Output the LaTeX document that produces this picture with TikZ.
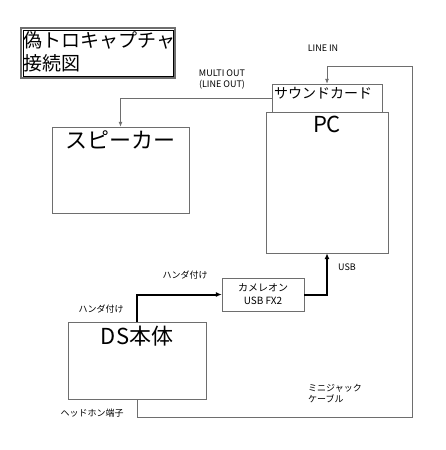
\documentclass[tikz,border=0pt]{standalone}
\usepackage{fontspec}
\setmainfont{Noto Sans CJK JP}
\usetikzlibrary{arrows.meta,positioning}
\definecolor{linegray}{RGB}{110,110,110}
\tikzset{
  box/.style={draw=linegray, fill=white, inner sep=0pt},
  small/.style={font=\fontsize{9}{11}\selectfont, inner sep=0pt, align=center},
  big/.style={font=\fontsize{22}{24}\selectfont, inner sep=0pt},
  thin/.style={draw=linegray, line width=0.8pt, -{Latex[length=5pt,width=4pt]}},
  thick/.style={draw=black, line width=2pt, -{Latex[length=6pt,width=5pt]}}
}
\begin{document}
\begin{tikzpicture}[x=1pt,y=-1pt]
            \useasboundingbox (0,0) rectangle (445,450);

            % title
            \node[draw=linegray, line width=2.5pt, minimum width=154pt, minimum height=50pt] (title) at (98,53) {};
            \node[draw=black, line width=0.6pt, minimum width=150pt, minimum height=46pt] at (title) {};
            \node[font=\fontsize{19}{23}\selectfont, align=left, inner sep=0pt, anchor=west] at (23,52) {偽トロキャプチャ\\接続図};

            % boxes
            \node[box, minimum width=110pt, minimum height=28pt] (snd) at (327,98) {};
            \node[font=\fontsize{14}{16}\selectfont, inner sep=0pt, anchor=west] at (274,93) {サウンドカード};
            \node[box, minimum width=122pt, minimum height=141pt] (pc) at (327,182.5) {};
            \node[big] at (327,124) {PC};
            \node[box, minimum width=137pt, minimum height=86pt] (spk) at (120.5,170) {};
            \node[big] at (120.5,140) {スピーカー};
            \node[box, minimum width=82pt, minimum height=33pt, small, font=\fontsize{10}{13}\selectfont] (cam) at (263,294.5) {カメレオン\\USB FX2};
            \node[box, minimum width=138pt, minimum height=77pt] (ds) at (137,360.5) {};
            \node[big] at (137,336) {DS本体};

            % connections
            \draw[thin] (snd.west) -| (spk.north);
            \draw[thin] (ds.south) -- (137,417) -- (412,417) -- (412,66) -| (snd.north);
            \draw[thick] (ds.north) |- (cam.west);
            \draw[thick] (cam.east) -| (pc.south);

            % labels
            \node[small] at (222,80) {MULTI OUT\\(LINE OUT)};
            \node[small] at (323,48) {LINE IN};
            \node[small] at (347,267) {USB};
            \node[small] at (185,275) {ハンダ付け};
            \node[small] at (101,309) {ハンダ付け};
            \node[small] at (92,413) {ヘッドホン端子};
            \node[small, align=left, anchor=west] at (308,394) {ミニジャック\\ケーブル};
        \end{tikzpicture}
\end{document}
